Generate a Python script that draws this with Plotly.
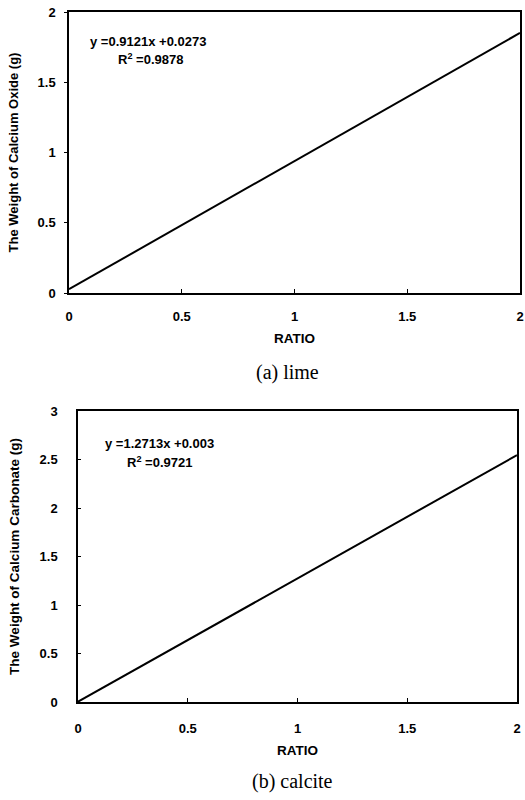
import plotly.graph_objects as go

# Data
lime_ratio = [0, 2]
lime_weight = [0.027, 1.851]
calcite_ratio = [0, 2]
calcite_weight = [0.003, 2.545]

lime_eq = "y =0.9121x +0.0273"
lime_r2 = "R<sup>2</sup> =0.9878"
calcite_eq = "y =1.2713x +0.003"
calcite_r2 = "R<sup>2</sup> =0.9721"

x_ticks = [0, 0.5, 1, 1.5, 2]
x_ticklabels = ["0", "0.5", "1", "1.5", "2"]
lime_yticks = [0, 0.5, 1, 1.5, 2]
lime_yticklabels = ["0", "0.5", "1", "1.5", "2"]
calcite_yticks = [0, 0.5, 1, 1.5, 2, 2.5, 3]
calcite_yticklabels = ["0", "0.5", "1", "1.5", "2", "2.5", "3"]

W, H = 525, 800
def px_x(p):
    return p / W
def px_y(p):
    return 1 - p / H
def bold(lst):
    return ["<b>" + s + "</b>" for s in lst]

fig = go.Figure()
fig.add_trace(go.Scatter(x=lime_ratio, y=lime_weight, mode="lines",
                         line=dict(color="black", width=2), xaxis="x", yaxis="y",
                         showlegend=False))
fig.add_trace(go.Scatter(x=calcite_ratio, y=calcite_weight, mode="lines",
                         line=dict(color="black", width=2), xaxis="x2", yaxis="y2",
                         showlegend=False))

tickfont = dict(family="Liberation Sans", size=13, color="black")
ratiofont = dict(family="Liberation Sans", size=13.5, color="black")

common_x = dict(range=[0, 2], tickvals=x_ticks, ticktext=bold(x_ticklabels),
                showline=True, linecolor="black", linewidth=1.5, mirror=True,
                ticks="inside", ticklen=4, tickcolor="black", showgrid=False,
                zeroline=False, tickfont=tickfont, automargin=False)
common_y = dict(showline=True, linecolor="black", linewidth=1.5, mirror=True,
                ticklen=3, tickcolor="black", showgrid=False,
                zeroline=False, tickfont=tickfont, automargin=False)

fig.update_layout(
    width=W, height=H,
    margin=dict(l=0, r=0, t=0, b=0),
    paper_bgcolor="white", plot_bgcolor="white",
    font=dict(family="Liberation Sans", color="black"),
    xaxis=dict(common_x, domain=[px_x(69), px_x(520)], anchor="y", ticklabelstandoff=11,
               title=dict(text="<b>RATIO</b>", font=ratiofont, standoff=10)),
    yaxis=dict(common_y, domain=[px_y(293), px_y(12)], anchor="x", range=[0, 2],
               ticks="outside", ticklabelstandoff=6,
               tickvals=lime_yticks, ticktext=bold(lime_yticklabels),
               title=dict(text="<b>The Weight of Calcium Oxide (g)</b>",
                          font=dict(family="Liberation Sans", size=13, color="black"), standoff=16)),
    xaxis2=dict(common_x, domain=[px_x(78), px_x(517)], anchor="y2", ticklabelstandoff=14,
                title=dict(text="<b>RATIO</b>", font=ratiofont, standoff=10)),
    yaxis2=dict(common_y, domain=[px_y(702), px_y(411)], anchor="x2", range=[0, 3],
                ticks="inside", ticklabelstandoff=16,
                tickvals=calcite_yticks, ticktext=bold(calcite_yticklabels),
                title=dict(text="<b>The Weight of Calcium Carbonate (g)</b>",
                           font=dict(family="Liberation Sans", size=13.5, color="black"), standoff=17)),
)

ann_font = dict(family="Liberation Sans", size=13, color="black")
for txt, cx, cy in [(lime_eq, 148, 41), (lime_r2, 150, 59), (calcite_eq, 159, 443), (calcite_r2, 159, 462)]:
    fig.add_annotation(text="<b>" + txt + "</b>", x=px_x(cx), y=px_y(cy), xref="paper", yref="paper",
                       xanchor="center", yanchor="middle", showarrow=False, font=ann_font)

cap_font = dict(family="Liberation Serif", size=20, color="black")
fig.add_annotation(text="(a) lime", x=px_x(287), y=px_y(372), xref="paper", yref="paper",
                   xanchor="center", yanchor="middle", showarrow=False, font=cap_font)
fig.add_annotation(text="(b) calcite", x=px_x(292), y=px_y(781), xref="paper", yref="paper",
                   xanchor="center", yanchor="middle", showarrow=False, font=cap_font)

fig.write_html("out.html", config={"displayModeBar": False},
               post_script="document.body.style.margin='0';document.body.style.overflow='hidden';")
